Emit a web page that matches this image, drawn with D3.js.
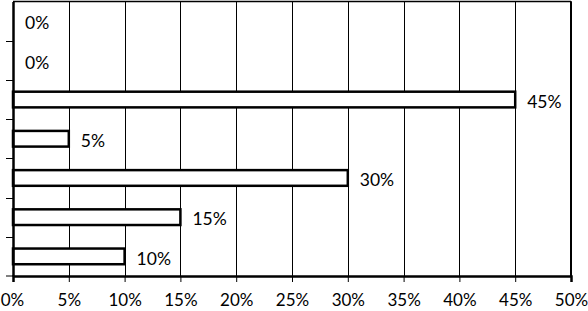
<!DOCTYPE html>
<html><head><meta charset="utf-8">
<script src="https://cdn.jsdelivr.net/npm/d3@7"></script>
<style>body{margin:0;background:#fff}svg{display:block}</style>
</head><body>
<script>
const categories = ["C1","C2","C3","C4","C5","C6","C7"];
const values = [0, 0, 45, 5, 30, 15, 10];
const xTicks = [0,5,10,15,20,25,30,35,40,45,50];

const W = 588, H = 311;
const m = {left: 13, right: 17, top: 1.5, bottom: 35};
const svg = d3.select("body").append("svg").attr("width", W).attr("height", H);
const x = d3.scaleLinear().domain([0, 50]).range([m.left, W - m.right]);
const y = d3.scaleBand().domain(categories).range([m.top, H - m.bottom]).paddingInner(0.6).paddingOuter(0.3);
const yb = d3.scaleBand().domain(categories).range([m.top, H - m.bottom]);
const font = "Lato, 'Open Sans', sans-serif";

// gridlines
svg.append("g").selectAll("line").data(xTicks.slice(1)).join("line")
  .attr("x1", d => Math.round(x(d)) + 0.5).attr("x2", d => Math.round(x(d)) + 0.5)
  .attr("y1", m.top).attr("y2", H - m.bottom)
  .attr("stroke", "#000").attr("stroke-width", 1);
// top border
svg.append("line").attr("x1", m.left).attr("x2", x(50)).attr("y1", m.top).attr("y2", m.top)
  .attr("stroke", "#000").attr("stroke-width", 1.5);
// right border
svg.append("line").attr("x1", x(50)).attr("x2", x(50)).attr("y1", m.top).attr("y2", H - m.bottom)
  .attr("stroke", "#000").attr("stroke-width", 2);

// bars
svg.append("g").selectAll("rect").data(values.map((v,i)=>({c:categories[i], v}))).join("rect")
  .filter(d => d.v > 0)
  .attr("x", x(0)).attr("y", d => y(d.c))
  .attr("width", d => x(d.v) - x(0)).attr("height", y.bandwidth())
  .attr("fill", "#fff").attr("stroke", "#000").attr("stroke-width", 2.5);

// labels
svg.append("g").selectAll("text").data(values.map((v,i)=>({c:categories[i], v}))).join("text")
  .attr("x", d => x(d.v) + 12).attr("y", d => y(d.c) + y.bandwidth()/2 + 2)
  .attr("dy", "0.36em").attr("font-family", font).attr("font-size", 17.5)
  .text(d => d.v + "%");

// x axis
const xa = svg.append("g").attr("transform", `translate(0,${H - m.bottom})`)
  .call(d3.axisBottom(x).tickValues(xTicks).tickFormat(d => d + "%").tickSize(6).tickPadding(12));
xa.select(".domain").attr("stroke-width", 2.5);
xa.selectAll(".tick line").attr("stroke-width", 1);
xa.selectAll("text").attr("font-family", font).attr("font-size", 17).attr("fill", "#000");
xa.select(".tick:first-of-type text").attr("x", -1);

// y axis
const ya = svg.append("g").attr("transform", `translate(${m.left},0)`)
  .call(d3.axisLeft(yb).tickValues([]).tickSize(0));
ya.select(".domain").attr("stroke-width", 2.5);
// left ticks at band boundaries
svg.append("g").selectAll("line").data(categories.slice(1).concat(["end"])).join("line")
  .attr("x1", 6).attr("x2", m.left)
  .attr("y1", d => d === "end" ? H - m.bottom : Math.round(yb(d)) + 0.5)
  .attr("y2", d => d === "end" ? H - m.bottom : Math.round(yb(d)) + 0.5)
  .attr("stroke", "#000").attr("stroke-width", 1);
</script>
</body></html>
